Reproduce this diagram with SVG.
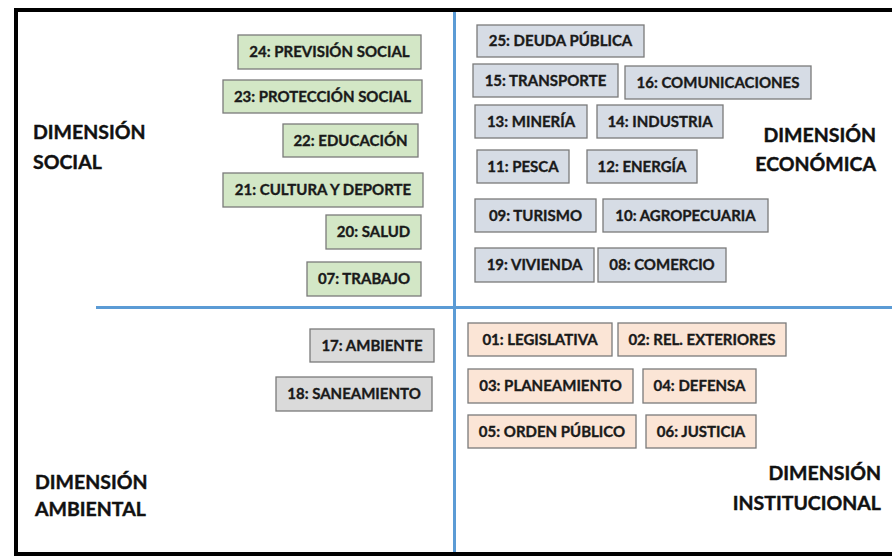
<svg xmlns="http://www.w3.org/2000/svg" width="892" height="559" viewBox="0 0 892 559">
<style>
.bx{stroke:#7a7a7a;stroke-width:1.3}
.g{fill:#d3e7c6}
.b{fill:#d6dce5}
.s{fill:#dadada}
.p{fill:#fbe5d6}
.t{font-family:Lato,"Liberation Sans",sans-serif;font-weight:bold;font-size:15px;fill:#1a1a1a;stroke:#1a1a1a;stroke-width:0.35;text-anchor:middle}
.d{font-family:Lato,"Liberation Sans",sans-serif;font-weight:bold;font-size:19.5px;fill:#111111;stroke:#111111;stroke-width:0.4}
.ln{stroke:#5b9bd5;stroke-width:3;fill:none}
</style>
<rect x="0" y="0" width="892" height="559" fill="#ffffff"/>
<rect x="16" y="10" width="890" height="544" fill="none" stroke="#000000" stroke-width="4"/>
<g id="connectors">
<line class="ln" x1="454.5" y1="12" x2="454.5" y2="552"/>
<line class="ln" x1="96" y1="307.5" x2="892" y2="307.5"/>
</g>
<g id="n24"><rect class="bx g" x="238" y="35" width="183" height="34"/><text class="t" x="329.5" y="57">24: PREVISIÓN SOCIAL</text></g>
<g id="n23"><rect class="bx g" x="223" y="80" width="199" height="33"/><text class="t" x="322.5" y="101.5">23: PROTECCIÓN SOCIAL</text></g>
<g id="n22"><rect class="bx g" x="283" y="124" width="135" height="33"/><text class="t" x="350.5" y="145.5">22: EDUCACIÓN</text></g>
<g id="n21"><rect class="bx g" x="223" y="173" width="200" height="34"/><text class="t" x="323" y="195">21: CULTURA Y DEPORTE</text></g>
<g id="n20"><rect class="bx g" x="326" y="215" width="95" height="34"/><text class="t" x="373.5" y="237">20: SALUD</text></g>
<g id="n07"><rect class="bx g" x="307" y="262" width="114" height="34"/><text class="t" x="364" y="284">07: TRABAJO</text></g>

<g id="n25"><rect class="bx b" x="477" y="25" width="167" height="32"/><text class="t" x="560.5" y="46">25: DEUDA PÚBLICA</text></g>
<g id="n15"><rect class="bx b" x="473" y="64" width="145" height="33"/><text class="t" x="545.5" y="85.5">15: TRANSPORTE</text></g>
<g id="n16"><rect class="bx b" x="625" y="66" width="186" height="33"/><text class="t" x="718" y="87.5">16: COMUNICACIONES</text></g>
<g id="n13"><rect class="bx b" x="475" y="105" width="112" height="33"/><text class="t" x="531" y="126.5">13: MINERÍA</text></g>
<g id="n14"><rect class="bx b" x="597" y="105" width="126" height="33"/><text class="t" x="660" y="126.5">14: INDUSTRIA</text></g>
<g id="n11"><rect class="bx b" x="477" y="150" width="92" height="33"/><text class="t" x="523" y="171.5">11: PESCA</text></g>
<g id="n12"><rect class="bx b" x="587" y="150" width="110" height="33"/><text class="t" x="642" y="171.5">12: ENERGÍA</text></g>
<g id="n09"><rect class="bx b" x="475" y="199" width="121" height="33"/><text class="t" x="535.5" y="220.5">09: TURISMO</text></g>
<g id="n10"><rect class="bx b" x="603" y="199" width="165" height="33"/><text class="t" x="685.5" y="220.5">10: AGROPECUARIA</text></g>
<g id="n19"><rect class="bx b" x="475" y="248" width="119" height="34"/><text class="t" x="534.5" y="270">19: VIVIENDA</text></g>
<g id="n08"><rect class="bx b" x="598" y="248" width="128" height="34"/><text class="t" x="662" y="270">08: COMERCIO</text></g>

<g id="n17"><rect class="bx s" x="310" y="329" width="124" height="33"/><text class="t" x="372" y="350.5">17: AMBIENTE</text></g>
<g id="n18"><rect class="bx s" x="276" y="377" width="156" height="34"/><text class="t" x="354" y="399">18: SANEAMIENTO</text></g>

<g id="n01"><rect class="bx p" x="468" y="323" width="144" height="33"/><text class="t" x="540" y="344.5">01: LEGISLATIVA</text></g>
<g id="n02"><rect class="bx p" x="618" y="323" width="168" height="33"/><text class="t" x="702" y="344.5">02: REL. EXTERIORES</text></g>
<g id="n03"><rect class="bx p" x="468" y="369" width="165" height="34"/><text class="t" x="550.5" y="391">03: PLANEAMIENTO</text></g>
<g id="n04"><rect class="bx p" x="643" y="369" width="113" height="34"/><text class="t" x="699.5" y="391">04: DEFENSA</text></g>
<g id="n05"><rect class="bx p" x="468" y="415" width="168" height="33"/><text class="t" x="552" y="436.5">05: ORDEN PÚBLICO</text></g>
<g id="n06"><rect class="bx p" x="646" y="415" width="110" height="33"/><text class="t" x="701" y="436.5">06: JUSTICIA</text></g>

<g id="dim-social"><text class="d" x="33" y="139">DIMENSIÓN</text><text class="d" x="33" y="169">SOCIAL</text></g>
<g id="dim-economica"><text class="d" x="876" y="141.5" text-anchor="end">DIMENSIÓN</text><text class="d" x="876" y="171" text-anchor="end">ECONÓMICA</text></g>
<g id="dim-ambiental"><text class="d" x="35" y="489">DIMENSIÓN</text><text class="d" x="35" y="516">AMBIENTAL</text></g>
<g id="dim-institucional"><text class="d" x="881" y="480" text-anchor="end">DIMENSIÓN</text><text class="d" x="881" y="510" text-anchor="end">INSTITUCIONAL</text></g>
</svg>
